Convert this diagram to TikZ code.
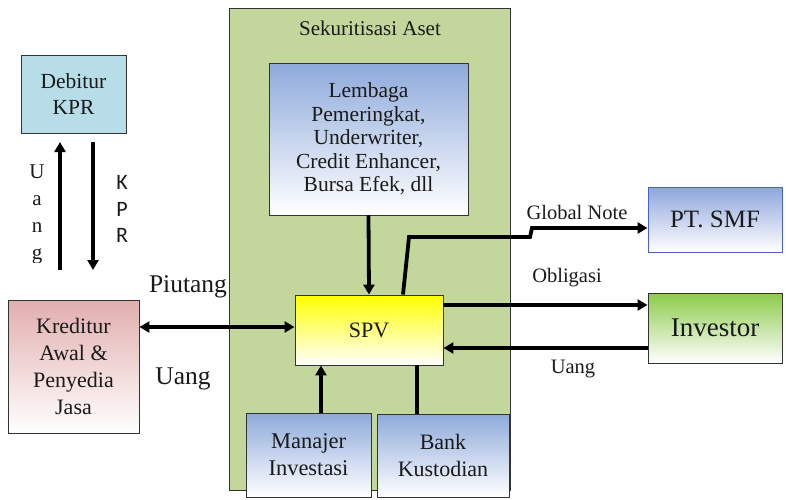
\documentclass[tikz,border=0pt]{standalone}
\usepackage{fontspec}
\setmainfont{Liberation Serif}
\newfontfamily\calib{Carlito}
\usetikzlibrary{arrows.meta}
\definecolor{sekgreen}{HTML}{C3D69B}
\definecolor{debblue}{HTML}{B7DDE8}
\definecolor{lemblue}{HTML}{8EAADB}
\definecolor{smfblue}{HTML}{8EA6DC}
\definecolor{smfborder}{HTML}{4A5FC8}
\definecolor{invgreen}{HTML}{8CCB4A}
\definecolor{kredpink}{HTML}{E2AEAE}
\definecolor{spvyellow}{HTML}{FFFF00}
\definecolor{txt}{HTML}{1A1A1A}
\begin{document}
\begin{tikzpicture}[x=1pt,y=-1pt,
  box/.style={draw=black!80, line width=0.9pt, inner sep=0pt, align=center, text=txt,
    font=\fontsize{21.5}{23.5}\selectfont},
  grad/.style={box, shading=axis, top color=#1, bottom color=white, shading angle=0},
  arr/.style={line width=3.8pt, -{Triangle[length=10pt,width=11pt]}},
  darr/.style={line width=3.8pt, {Triangle[length=10pt,width=11pt]}-{Triangle[length=10pt,width=11pt]}},
  plainline/.style={line width=3.8pt},
  lbl/.style={text=txt, inner sep=0pt, font=\fontsize{20.5}{22}\selectfont},
  biglbl/.style={text=txt, inner sep=0pt, font=\fontsize{25.5}{28}\selectfont}]
\useasboundingbox (0,0) rectangle (786,499);
\fill[white] (0,0) rectangle (786,499);

% container
\node[box, fill=sekgreen, minimum width=281pt, minimum height=482pt] (sek) at (369.5,249) {};
\node[lbl, font=\fontsize{21}{22}\selectfont] (sektitle) at (370,28) {Sekuritisasi Aset};

% boxes
\node[box, fill=debblue, minimum width=105pt, minimum height=78pt, font=\fontsize{21.5}{26.5}\selectfont] (deb) at (73.5,94) {Debitur\\KPR};
\node[grad=kredpink, minimum width=131pt, minimum height=133pt, font=\fontsize{22}{26.7}\selectfont] (kred) at (73.5,366.5) {Kreditur\\Awal \&\\Penyedia\\Jasa};
\node[grad=lemblue, minimum width=199pt, minimum height=152pt] (lem) at (368.5,139) {Lembaga\\Pemeringkat,\\Underwriter,\\Credit Enhancer,\\Bursa Efek, dll};
\node[grad=spvyellow, minimum width=148pt, minimum height=70pt, font=\fontsize{22}{24}\selectfont] (spv) at (369,330) {SPV};
\node[grad=smfblue, draw=smfborder, minimum width=134pt, minimum height=65pt, font=\fontsize{25}{28}\selectfont] (smf) at (715,219.5) {PT. SMF};
\node[grad=invgreen, minimum width=134pt, minimum height=70pt, font=\fontsize{27}{30}\selectfont] (inv) at (715,328) {Investor};
\node[grad=lemblue, minimum width=125pt, minimum height=84pt, font=\fontsize{22.5}{27}\selectfont] (man) at (308.5,455) {Manajer\\Investasi};
\node[grad=lemblue, minimum width=132pt, minimum height=83pt, font=\fontsize{22}{27}\selectfont] (bank) at (443,455.5) {Bank\\Kustodian};

% helper coordinates
\coordinate (uangtop) at (60,142);
\coordinate (uangbot) at (60,270);
\coordinate (kprtop) at (93,142);
\coordinate (kprbot) at (93,270);
\coordinate (dy) at (0,327);
\coordinate (mx) at (321,0);
\coordinate (bx) at (417,0);
\coordinate (gx) at (403,0);
\coordinate (g1) at (409,237);
\coordinate (g2) at (530,237);
\coordinate (g3) at (532,228);
\coordinate (obly) at (0,305);
\coordinate (uangy) at (0,348);

% connectors
\draw[arr] (uangbot) -- (uangtop);
\draw[arr] (kprtop) -- (kprbot);
\draw[darr] (kred.east |- dy) -- (spv.west |- dy);
\draw[arr] (lem.south) -- (spv.north);
\draw[arr] (man.north -| mx) -- (spv.south -| mx);
\draw[plainline] (bank.north -| bx) -- (spv.south -| bx);
\draw[arr] (spv.north -| gx) -- (g1) -- (g2) -- (g3) -- (smf.west |- g3);
\draw[arr] (spv.east |- obly) -- (inv.west |- obly);
\draw[arr] (inv.west |- uangy) -- (spv.east |- uangy);

% labels
\begin{scope}
\clip (20,150) rectangle (56,262);
\node[lbl, align=center, font=\fontsize{21}{27}\selectfont] (uanglbl) at (37,214) {U\\a\\n\\g};
\end{scope}
\node[lbl, align=center, font=\calib\fontsize{22}{26.5}\selectfont] (kprlbl) at (122,209) {K\\P\\R};
\node[biglbl] (piutang) at (188,287) {Piutang};
\node[biglbl] (uangleft) at (183,379) {Uang};
\node[lbl] (gnote) at (577,212) {Global Note};
\node[lbl] (obl) at (567,278) {Obligasi};
\node[lbl] (uangright) at (573,369) {Uang};
\end{tikzpicture}
\end{document}
